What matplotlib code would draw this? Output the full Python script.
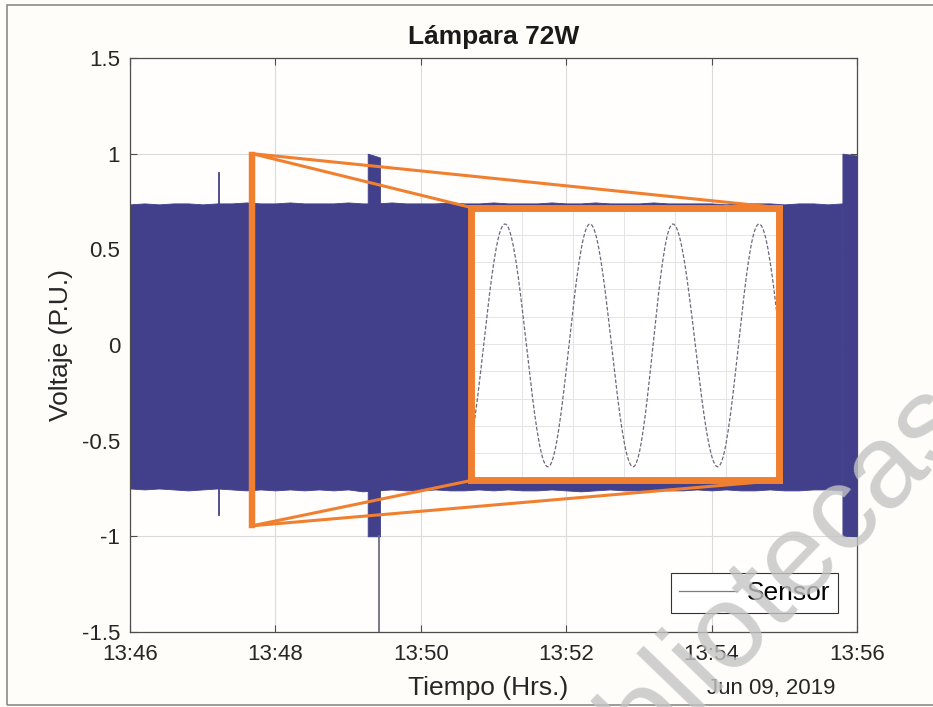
import numpy as np
import matplotlib
matplotlib.use("Agg")
import matplotlib.pyplot as plt
from matplotlib.patches import Rectangle
from matplotlib.lines import Line2D

plt.rcParams['font.family'] = ['Liberation Sans', 'DejaVu Sans']

# ---- data (time in minutes after 13:46) ----
t_band = np.round(np.arange(0, 9.81, 0.2), 2)
upper = [0.735, 0.74, 0.735, 0.74, 0.74, 0.735, 0.74, 0.74, 0.745, 0.74,
         0.74, 0.745, 0.74, 0.74, 0.74, 0.745, 0.74, 0.74, 0.745, 0.74,
         0.74, 0.74, 0.745, 0.74, 0.74, 0.745, 0.74, 0.74, 0.74, 0.745,
         0.74, 0.74, 0.745, 0.74, 0.74, 0.74, 0.745, 0.74, 0.74, 0.74,
         0.74, 0.735, 0.74, 0.74, 0.74, 0.735, 0.74, 0.74, 0.735, 0.74]
lower = [-0.75, -0.755, -0.75, -0.755, -0.76, -0.755, -0.75, -0.755, -0.76, -0.755,
         -0.76, -0.755, -0.76, -0.755, -0.76, -0.755, -0.765, -0.76, -0.755, -0.76,
         -0.76, -0.755, -0.76, -0.76, -0.755, -0.76, -0.755, -0.76, -0.76, -0.755,
         -0.76, -0.765, -0.76, -0.755, -0.76, -0.76, -0.755, -0.76, -0.76, -0.755,
         -0.76, -0.755, -0.76, -0.76, -0.755, -0.76, -0.76, -0.755, -0.755, -0.76]

# short bursts near +/-1
burst_t = [[3.27, 3.44], [9.80, 10.0]]
burst_up = [[1.0, 0.98], [1.0, 0.99]]
burst_lo = [[-1.0, -1.0], [-1.0, -1.0]]

# single spike
spike_t = 1.23
spike_up, spike_lo = 0.90, -0.89

# glitch going below the axis
glitch_t = 3.43
glitch_v = [-1.0, -1.6]

# zoomed waveform (ms, P.U.): extrema
ext_t = [-1.8, 6.57, 15.0, 23.24, 31.7, 39.5, 48.3, 56.4, 64.8]
ext_v = [-0.90, 0.88, -0.90, 0.88, -0.90, 0.88, -0.90, 0.88, -0.90]

# zoom source and inset box (main axes coordinates)
src_x, src_w = 1.67, 0.02
src_y0, src_y1 = -0.945, 1.0
box_x0, box_x1 = 4.697, 8.927
box_y0, box_y1 = -0.708, 0.718

xtick_vals = [0, 2, 4, 6, 8, 10]
xtick_labels = ['13:46', '13:48', '13:50', '13:52', '13:54', '13:56']
ytick_vals = [-1.5, -1, -0.5, 0, 0.5, 1, 1.5]
ytick_labels = ['-1.5', '-1', '-0.5', '0', '0.5', '1', '1.5']

blue = '#42408B'
orange = '#F08030'
bg = '#FEFDF9'

fig = plt.figure(figsize=(9.33, 7.07), dpi=100, facecolor=bg)
ax = fig.add_axes([0.1393, 0.1061, 0.7792, 0.8119], facecolor='#FFFEFC')

ax.fill_between(t_band, lower, upper, color=blue, lw=0.6, zorder=2)
for bt, bu, bl in zip(burst_t, burst_up, burst_lo):
    ax.fill_between(bt, bl, bu, color=blue, lw=0.6, zorder=2)
ax.plot([spike_t, spike_t], [spike_lo, spike_up], color=blue, lw=1.3, zorder=2)
ax.plot([glitch_t, glitch_t], glitch_v, color='#6E6E82', lw=1.3, zorder=2)

ax.set_xlim(0, 10)
ax.set_ylim(-1.5, 1.5)
ax.set_xticks(xtick_vals)
ax.set_xticklabels(xtick_labels)
ax.set_yticks(ytick_vals)
ax.set_yticklabels(ytick_labels)
ax.grid(True, color='#DADADA', lw=0.8, zorder=0)
ax.set_axisbelow(True)
ax.tick_params(direction='in', length=5, width=0.8, colors='#4D4D4D',
               top=True, right=True, labelsize=16, labelcolor='#262626')
ax.tick_params(axis='y', pad=7)
ax.tick_params(axis='x', pad=9)
for s in ax.spines.values():
    s.set_color('#4D4D4D')
    s.set_linewidth(0.9)

ax.set_ylabel('Voltaje (P.U.)', fontsize=19, color='#262626')
ax.yaxis.set_label_coords(-0.095, 0.5)
ax.yaxis.label.set_va('center')
ax.set_xlabel('Tiempo (Hrs.)', fontsize=19, color='#262626')
ax.xaxis.set_label_coords(0.492, -0.098)
ax.xaxis.label.set_va('center')
ax.text(0.970, -0.098, 'Jun 09, 2019', transform=ax.transAxes, ha='right',
        va='center', fontsize=16, color='#262626')
ax.text(0.5, 1.037, 'Lámpara 72W', transform=ax.transAxes, ha='center',
        va='center', fontsize=19, fontweight='bold', color='#1A1A1A')

# zoom source rectangle and connectors
ax.add_patch(Rectangle((src_x, src_y0), src_w, src_y1 - src_y0, fill=False,
                       ec=orange, lw=3.2, zorder=4))
for (sy, by) in [(src_y1, box_y1), (src_y0, box_y0)]:
    for bx in [box_x0, box_x1]:
        ax.plot([src_x + src_w / 2, bx], [sy, by], color=orange, lw=2.2,
                zorder=4, solid_capstyle='round')

# inset
ins = ax.inset_axes([box_x0, box_y0, box_x1 - box_x0, box_y1 - box_y0],
                    transform=ax.transData, facecolor='white')
wt, wv = [], []
for i in range(len(ext_t) - 1):
    s = np.linspace(0, 1, 40)
    wt.append(ext_t[i] + (ext_t[i + 1] - ext_t[i]) * s)
    wv.append(ext_v[i] + (ext_v[i + 1] - ext_v[i]) * (1 - np.cos(np.pi * s)) / 2)
ins.plot(np.concatenate(wt), np.concatenate(wv), color='#6A6A7C', lw=0.9,
         dashes=(3, 1.5))
ins.set_xlim(0, 60.3)
ins.set_ylim(-1, 1)
ins.set_xticks([10, 20, 30, 40, 50, 60])
ins.set_yticks(np.round(np.arange(-0.8, 0.81, 0.2), 1))
ins.grid(True, color='#E4E4E4', lw=0.7)
ins.tick_params(length=0, labelbottom=False, labelleft=False)
for s in ins.spines.values():
    s.set_color(orange)
    s.set_linewidth(5)

# legend
h = Line2D([], [], color='#7A7A8A', lw=0.9)
leg = ax.legend([h], ['Sensor'], loc='lower right', fontsize=19,
                handlelength=2.2, handletextpad=0.35, borderpad=0.3,
                borderaxespad=0.72, fancybox=False, framealpha=1,
                edgecolor='#333333')
leg.get_frame().set_linewidth(0.8)
leg.set_zorder(6)

# outer frame and watermark
fig.add_artist(Rectangle((7 / 933, 2 / 707), 1.0, 700 / 707, transform=fig.transFigure,
                         fill=False, ec='#8A8A8A', lw=1.2))
fig.text(755 / 933, 1 - 603 / 707, 'bibliotecas', rotation=46, ha='center',
         va='center', fontsize=86, color='#C4C4C4', alpha=0.8, zorder=10)

fig.savefig('out.png', dpi=100, facecolor=bg)
